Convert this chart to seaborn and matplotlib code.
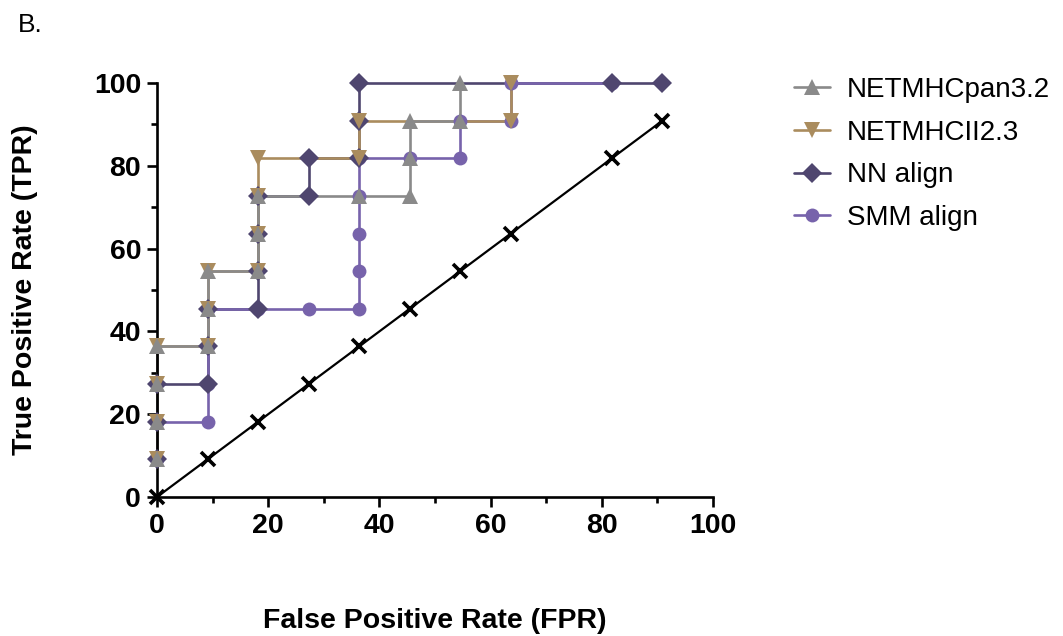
import matplotlib
matplotlib.use("Agg")
import matplotlib.pyplot as plt
import seaborn as sns
import pandas as pd
from matplotlib.ticker import MultipleLocator
from matplotlib.lines import Line2D

# ---------------- data (percent) ----------------
series_names = ["NETMHCpan3.2", "NETMHCII2.3", "NN align", "SMM align"]

netmhcpan_fpr = [0, 0, 0, 0, 9.09, 9.09, 9.09, 18.18, 18.18, 18.18, 36.36, 45.45, 45.45, 45.45, 54.55, 54.55]
netmhcpan_tpr = [9.09, 18.18, 27.27, 36.36, 36.36, 45.45, 54.55, 54.55, 63.64, 72.73, 72.73, 72.73, 81.82, 90.91, 90.91, 100]

netmhcii_fpr = [0, 0, 0, 0, 9.09, 9.09, 9.09, 18.18, 18.18, 18.18, 18.18, 36.36, 36.36, 63.64, 63.64]
netmhcii_tpr = [9.09, 18.18, 27.27, 36.36, 36.36, 45.45, 54.55, 54.55, 63.64, 72.73, 81.82, 81.82, 90.91, 90.91, 100]

nn_fpr = [0, 0, 0, 9.09, 9.09, 9.09, 18.18, 18.18, 18.18, 18.18, 27.27, 27.27, 36.36, 36.36, 36.36, 81.82, 90.91]
nn_tpr = [9.09, 18.18, 27.27, 27.27, 36.36, 45.45, 45.45, 54.55, 63.64, 72.73, 72.73, 81.82, 81.82, 90.91, 100, 100, 100]

smm_fpr = [0, 0, 9.09, 9.09, 9.09, 9.09, 18.18, 27.27, 36.36, 36.36, 36.36, 36.36, 36.36, 45.45, 54.55, 54.55, 63.64, 63.64, 81.82]
smm_tpr = [9.09, 18.18, 18.18, 27.27, 36.36, 45.45, 45.45, 45.45, 45.45, 54.55, 63.64, 72.73, 81.82, 81.82, 81.82, 90.91, 90.91, 100, 100]

chance_fpr = [0, 9.09, 18.18, 27.27, 36.36, 45.45, 54.55, 63.64, 81.82, 90.91]
chance_tpr = [0, 9.09, 18.18, 27.27, 36.36, 45.45, 54.55, 63.64, 81.82, 90.91]

x_ticks = [0, 20, 40, 60, 80, 100]
y_ticks = [0, 20, 40, 60, 80, 100]

# ---------------- style ----------------
sns.set_theme(style="ticks")
plt.rcParams["font.family"] = ["Liberation Sans", "DejaVu Sans"]
plt.rcParams["text.color"] = "black"
plt.rcParams["axes.labelcolor"] = "black"
plt.rcParams["xtick.color"] = "black"
plt.rcParams["ytick.color"] = "black"

colors = {
    "NETMHCpan3.2": "#8a8a8a",
    "NETMHCII2.3": "#aa8c5e",
    "NN align": "#4f466f",
    "SMM align": "#7763ab",
}
markers = {"NETMHCpan3.2": "^", "NETMHCII2.3": "v", "NN align": "D", "SMM align": "o"}
msize = {"NETMHCpan3.2": 11, "NETMHCII2.3": 11, "NN align": 10, "SMM align": 10}
data = {
    "NETMHCpan3.2": (netmhcpan_fpr, netmhcpan_tpr),
    "NETMHCII2.3": (netmhcii_fpr, netmhcii_tpr),
    "NN align": (nn_fpr, nn_tpr),
    "SMM align": (smm_fpr, smm_tpr),
}

fig = plt.figure(figsize=(10.63, 6.36), dpi=100)
ax = fig.add_axes([157 / 1063, 1 - 497 / 636, (713 - 157) / 1063, (497 - 83) / 636])

# lines (bottom -> top)
line_order = ["NN align", "SMM align", "NETMHCII2.3", "NETMHCpan3.2"]
for i, name in enumerate(line_order):
    fx, fy = data[name]
    df = pd.DataFrame({"FPR": fx, "TPR": fy})
    sns.lineplot(data=df, x="FPR", y="TPR", ax=ax, sort=False, estimator=None,
                 color=colors[name], linewidth=1.9, zorder=2 + i * 0.1,
                 clip_on=False, legend=False)

# markers (bottom -> top)
marker_order = ["SMM align", "NN align", "NETMHCII2.3", "NETMHCpan3.2"]
for i, name in enumerate(marker_order):
    fx, fy = data[name]
    df = pd.DataFrame({"FPR": fx, "TPR": fy})
    sns.lineplot(data=df, x="FPR", y="TPR", ax=ax, sort=False, estimator=None,
                 color=colors[name], linestyle="", marker=markers[name],
                 markersize=msize[name], markeredgewidth=0, zorder=3 + i * 0.1,
                 clip_on=False, legend=False)

# chance diagonal
dfc = pd.DataFrame({"FPR": chance_fpr, "TPR": chance_tpr})
sns.lineplot(data=dfc, x="FPR", y="TPR", ax=ax, sort=False, estimator=None,
             color="black", linewidth=1.6, marker="x", markersize=10,
             markeredgewidth=2.6, markeredgecolor="black", zorder=4,
             clip_on=False, legend=False)

# axes
ax.set_xlim(0, 100)
ax.set_ylim(0, 100)
ax.set_xticks(x_ticks)
ax.set_yticks(y_ticks)
ax.xaxis.set_minor_locator(MultipleLocator(10))
ax.yaxis.set_minor_locator(MultipleLocator(10))
sns.despine(ax=ax)
for s in ["left", "bottom"]:
    ax.spines[s].set_linewidth(1.9)
    ax.spines[s].set_color("black")
ax.tick_params(which="major", length=7.5, width=1.9, color="black", labelcolor="black",
               pad=4, labelsize=20.5, direction="out")
ax.tick_params(which="minor", length=4, width=1.9, color="black", direction="out")
for lab in ax.get_xticklabels() + ax.get_yticklabels():
    lab.set_fontweight("bold")

ax.set_xlabel("False Positive Rate (FPR)", fontsize=20.5, fontweight="bold",
              labelpad=50, color="black")
ax.set_ylabel("True Positive Rate (TPR)", fontsize=20.5, fontweight="bold",
              labelpad=40, color="black")

# legend
handles = [Line2D([0], [0], color=colors[n], marker=markers[n], markersize=msize[n],
                  markeredgewidth=0, linewidth=1.9) for n in series_names]
fig.legend(handles, series_names, loc="upper left",
           bbox_to_anchor=(783 / 1063, 1 - 66 / 636), frameon=False,
           fontsize=20, handlelength=1.3, handletextpad=0.6, labelspacing=0.6,
           borderaxespad=0, labelcolor="black")

fig.text(18 / 1063, 1 - 13 / 636, "B.", fontsize=19, va="top", ha="left", color="black")

fig.savefig("out.png", dpi=100, facecolor="white")
